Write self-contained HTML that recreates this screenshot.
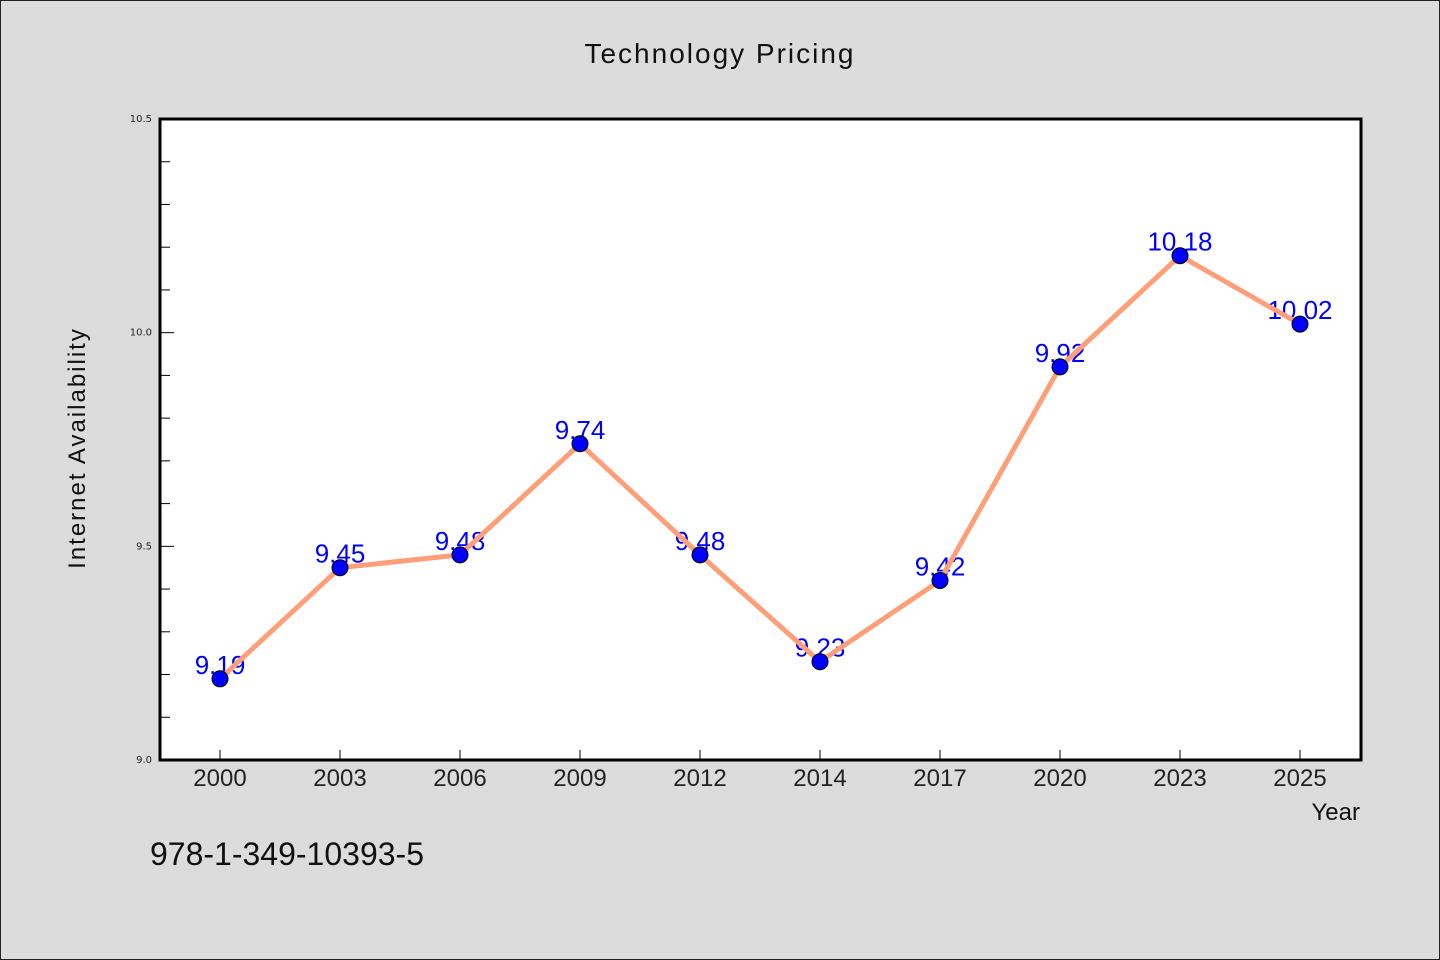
<!DOCTYPE html>
<html><head><meta charset="utf-8"><style>
html,body{margin:0;padding:0;background:#dcdcdc;}
svg{display:block;}
.wq{font-family:"WenQuanYi Zen Hei","Liberation Sans",sans-serif;}
</style></head><body>
<svg id="chart" width="1440" height="960" xmlns="http://www.w3.org/2000/svg">
<rect x="0.5" y="0.5" width="1439" height="959" fill="#dcdcdc" stroke="#222" stroke-width="1"/>
<text class="wq" x="720" y="63" font-size="28" text-anchor="middle" fill="#111" letter-spacing="2">Technology Pricing</text>
<rect x="160" y="119" width="1201" height="641" fill="#fff"/>
<g id="axes"></g>
<g id="marks"></g>
<rect x="160" y="119" width="1201" height="641" fill="none" stroke="#000" stroke-width="3"/>
<text class="wq" transform="translate(85,448) rotate(-90)" font-size="24" text-anchor="middle" fill="#111" letter-spacing="2">Internet Availability</text>
<text class="wq" x="1360" y="820" font-size="24" text-anchor="end" fill="#111">Year</text>
<text class="wq" x="150" y="865" font-size="32" fill="#111">978-1-349-10393-5</text>
</svg>
<script>
const categories = ["2000","2003","2006","2009","2012","2014","2017","2020","2023","2025"];
const values = [9.19,9.45,9.48,9.74,9.48,9.23,9.42,9.92,10.18,10.02];
const yTickLabels = ["9.0","9.5","10.0","10.5"];
const yMin = 9.0, yMax = 10.5;
const L=160,R=1361,T=119,B=760;
const NS="http://www.w3.org/2000/svg";
function xs(i){return L+60+i*120;}
function ys(v){return B-(v-yMin)/(yMax-yMin)*(B-T);}
function mk(tag,attrs,parent){const e=document.createElementNS(NS,tag);for(const k in attrs)e.setAttribute(k,attrs[k]);parent.appendChild(e);return e;}
const axes=document.getElementById('axes'), marks=document.getElementById('marks');
// y ticks
for(let k=0;k<=15;k++){
  const v=yMin+k*0.1; const y=ys(v); const major=(k%5===0);
  const t=mk('line',{x1:L,x2:L+(major?14:10),y1:y,y2:y,stroke:'#000','stroke-width':1},axes);
  
  
}
yTickLabels.forEach(s=>{
  const t=mk('text',{x:L-8,y:ys(parseFloat(s))+3,'font-size':10,'text-anchor':'end',fill:'#222','font-family':'DejaVu Sans,sans-serif'},axes);
  t.textContent=s;
  
  
});
categories.forEach((c,i)=>{
  const tk=mk('line',{x1:xs(i),x2:xs(i),y1:B,y2:B-10,stroke:'#000','stroke-width':1},axes);
  
  
  const t=mk('text',{x:xs(i),y:B+26,'font-size':24,'text-anchor':'middle',fill:'#222',class:'wq'},axes);
  t.textContent=c;
  
  
});
values.forEach((v,i)=>{
  const t=mk('text',{x:xs(i),y:ys(v)-5,'font-size':26,'text-anchor':'middle',fill:'#0000ff','font-family':'Liberation Sans,sans-serif'},marks);
  t.textContent=v.toFixed(2);
  
  
});
const pl=mk('polyline',{points:values.map((v,i)=>xs(i)+','+ys(v)).join(' '),fill:'none',stroke:'#ff9f7a','stroke-width':5,'stroke-linejoin':'round'},marks);


values.forEach((v,i)=>{
  const c=mk('circle',{cx:xs(i),cy:ys(v),r:8,fill:'#0000ff',stroke:'#000','stroke-width':1},marks);
  
  
});
</script>
</body></html>
